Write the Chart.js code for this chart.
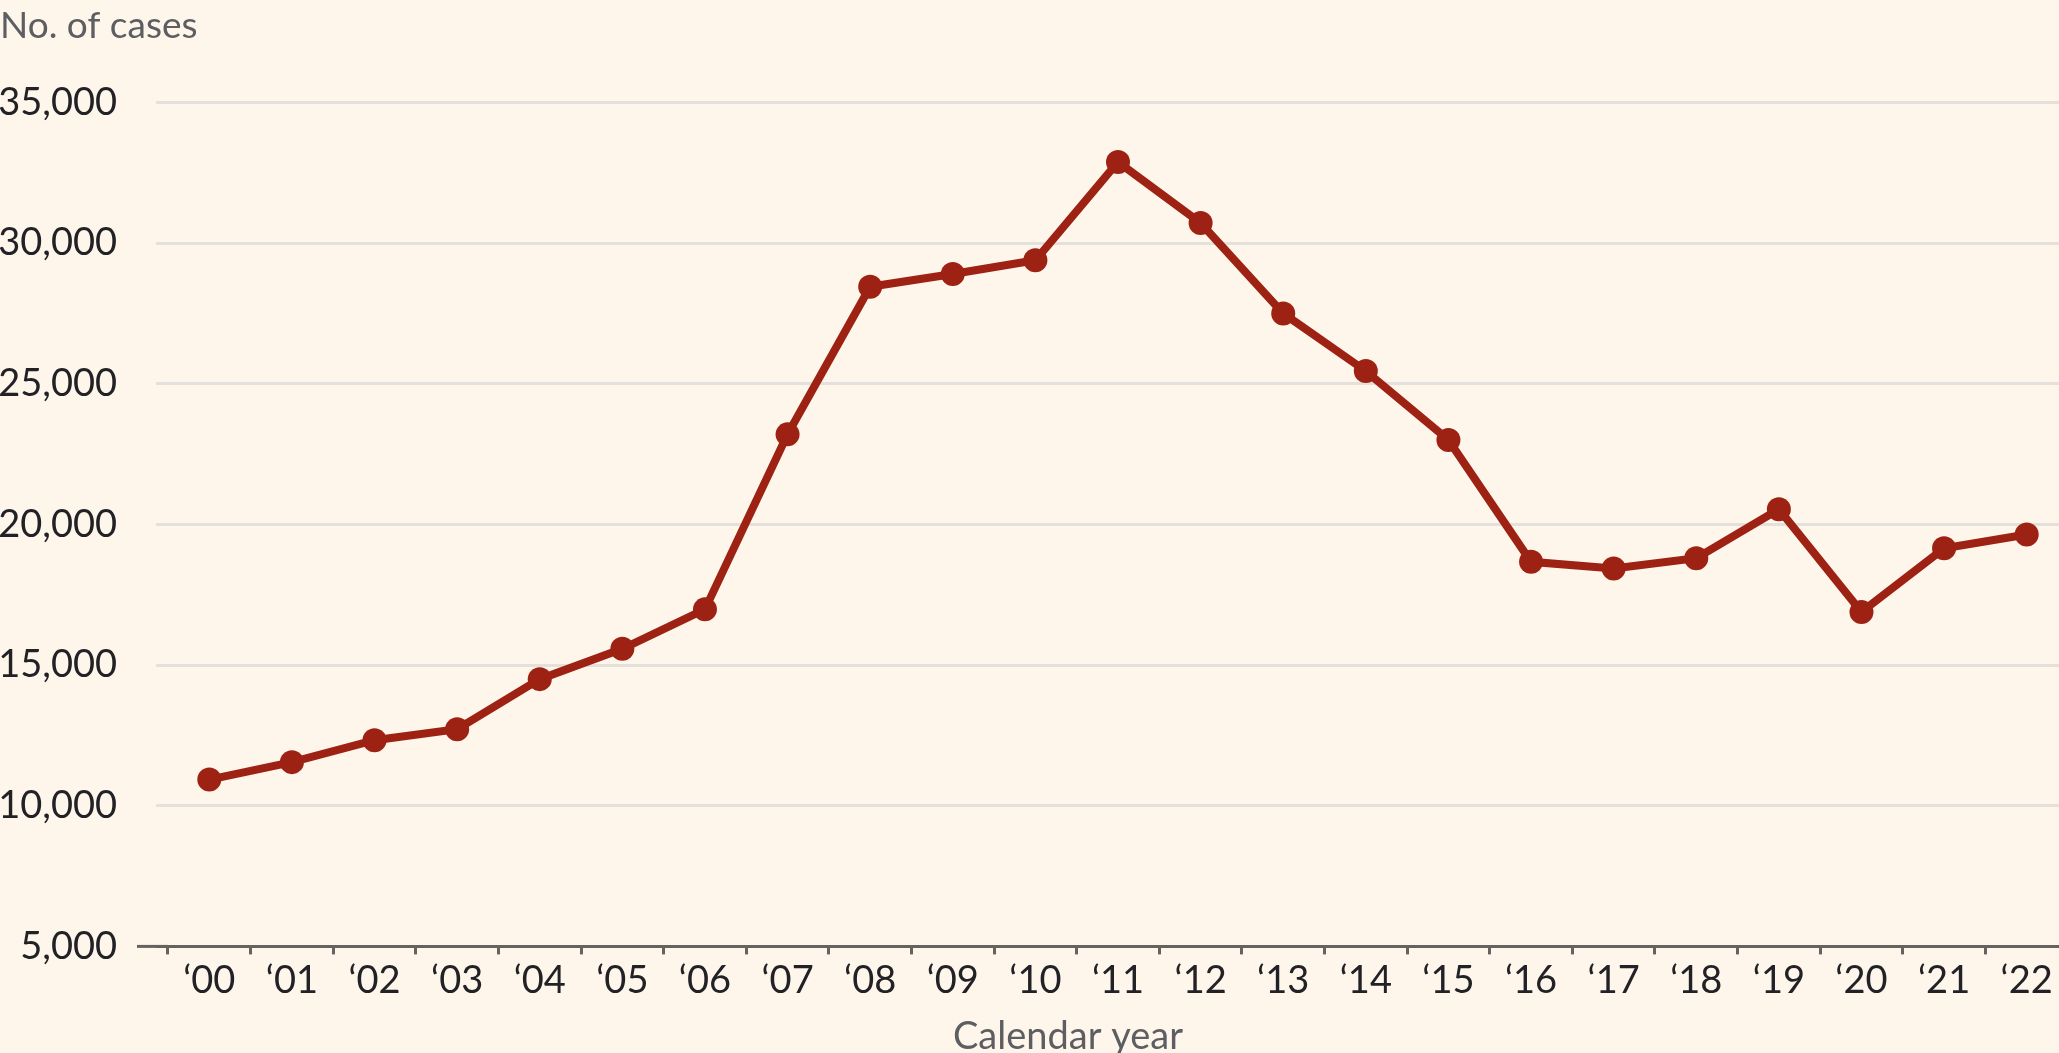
<!DOCTYPE html>
<html>
<head>
<meta charset="utf-8">
<script src="https://cdn.jsdelivr.net/npm/chart.js@4.4.1/dist/chart.umd.min.js"></script>
<style>
  html, body { margin: 0; padding: 0; overflow: hidden; background: #fef5eb; }
  #wrap { width: 2080px; height: 1053px; }
</style>
</head>
<body>
<div id="wrap"><canvas id="chart" width="2080" height="1053"></canvas></div>
<script>
const years = ["‘00", "‘01", "‘02", "‘03", "‘04", "‘05", "‘06", "‘07", "‘08", "‘09", "‘10", "‘11",
  "‘12", "‘13", "‘14", "‘15", "‘16", "‘17", "‘18", "‘19", "‘20", "‘21", "‘22"]
const cases = [10930, 11550, 12330, 12720, 14500, 15580, 16980, 23200, 28450, 28900, 29390, 32880,
  30710, 27500, 25450, 23000, 18670, 18430, 18800, 20540, 16890, 19150, 19640]
const yTicks = [5000, 10000, 15000, 20000, 25000, 30000, 35000]

const colors = {
  line: "#9e2213",
  grid: "#e4e1dc",
  axis: "#66625f",
  text: "#222226",
  muted: "#5d5e62"
}

Chart.defaults.font.family = "Lato"
Chart.defaults.font.size = 38

// axis line runs a little past the grid on the left, and the x title sits off-centre
const extras = {
  id: "extras",
  afterDraw(chart) {
    const { ctx, chartArea, scales } = chart
    const y0 = scales.y.getPixelForValue(yTicks[0])
    ctx.save()
    ctx.strokeStyle = colors.axis
    ctx.lineWidth = 3
    ctx.beginPath()
    ctx.moveTo(chartArea.left - 31, y0)
    ctx.lineTo(chartArea.left, y0)
    ctx.stroke()

    ctx.fillStyle = colors.muted
    ctx.font = "38px Lato"
    ctx.textAlign = "center"
    ctx.textBaseline = "alphabetic"
    ctx.fillText("Calendar year", 1068, 1049)
    ctx.restore()
  }
}

new Chart(document.getElementById("chart"), {
  type: "line",
  data: {
    labels: years,
    datasets: [{
      data: cases,
      borderColor: colors.line,
      backgroundColor: colors.line,
      borderWidth: 8,
      pointRadius: 12,
      pointHoverRadius: 12,
      pointBorderWidth: 0,
      tension: 0
    }]
  },
  options: {
    responsive: false,
    animation: false,
    layout: { padding: { left: 0, right: 0, top: 0, bottom: 45 } },
    plugins: {
      legend: { display: false },
      tooltip: { enabled: false },
      title: {
        display: true,
        text: "No. of cases",
        align: "start",
        color: colors.muted,
        font: { size: 37, weight: "normal" },
        padding: { top: 4, bottom: 54 }
      }
    },
    scales: {
      x: {
        type: "category",
        offset: true,
        afterFit: s => { s.paddingLeft = 0; s.paddingRight = 0 },
        border: { display: true, color: colors.axis, width: 3 },
        grid: {
          offset: true,
          drawOnChartArea: false,
          drawTicks: true,
          tickLength: 8,
          tickColor: colors.axis,
          tickWidth: 3
        },
        ticks: {
          color: colors.text,
          autoSkip: false,
          maxRotation: 0,
          padding: 4
        }
      },
      y: {
        min: 5000,
        max: 35000,
        afterBuildTicks: axis => { axis.ticks = yTicks.map(v => ({ value: v })) },
        afterFit: s => { s.width = 168 },
        border: { display: false },
        grid: {
          color: ctx => ctx.tick && ctx.tick.value === yTicks[0] ? "rgba(0,0,0,0)" : colors.grid,
          tickColor: ctx => ctx.tick && ctx.tick.value === yTicks[0] ? colors.axis : colors.grid,
          lineWidth: 3,
          tickWidth: 3,
          tickLength: 12
        },
        ticks: {
          color: colors.text,
          padding: 39,
          callback: v => v.toLocaleString("en-US")
        }
      }
    }
  },
  plugins: [extras]
})
</script>
</body>
</html>
